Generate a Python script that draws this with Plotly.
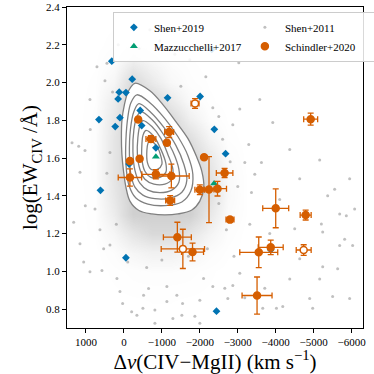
import plotly.graph_objects as go

# Shen+2019
shen19_dv = [320, -218, 124, -53, 153, -1150, -2008, -2316, 658, 105, -429, 229, -468,
             -2382, -842, -2679, -137, 618, -53, -3868, -2439]
shen19_ew = [2.113, 2.018, 1.949, 1.947, 1.913, 1.919, 1.926, 2.176, 1.804, 1.814, 1.852,
             1.767, 1.772, 1.752, 1.654, 1.623, 1.568, 1.429, 1.072, 1.114, 0.789]

# Mazzucchelli+2017
mazz_dv = [-842, -2376]
mazz_ew = [1.607, 1.465]

# Schindler+2020
sch_dv = [-1874, -4921, -376, -711, -1192, -1132, -158, -413, -158, -842, -1250, -1218,
          -2113, -2000, -2242, -2466, -2653, -2795, -4000, -4789, -1408, -1553, -1808,
          -3553, -3868, -4737, -3508]
sch_ew = [1.889, 1.806, 1.804, 1.701, 1.738, 1.681, 1.584, 1.596, 1.497, 1.514, 1.505, 1.375,
          1.604, 1.432, 1.433, 1.438, 1.521, 1.274, 1.334, 1.298, 1.181, 1.119, 1.102,
          1.101, 1.127, 1.113, 0.872]
sch_dv_err = [105, 184, 50, 130, 118, 60, 50, 50, 308, 370, 470, 118, 50, 130, 130, 237, 218,
              105, 342, 145, 368, 571, 290, 500, 329, 197, 395]
sch_ew_err = [0.026, 0.032, 0.008, 0.018, 0.029, 0.010, 0.010, 0.010, 0.046, 0.024, 0.063,
              0.026, 0.010, 0.026, 0.175, 0.039, 0.024, 0.010, 0.103, 0.026, 0.079, 0.104,
              0.047, 0.081, 0.038, 0.028, 0.098]
sch_open = [True, False, False, False, False, False, False, False, False, False, False, False,
            False, False, False, False, False, False, False, False, False, True, False,
            False, False, True, False]

# Shen+2011: scattered points outside the dense region
shen11_dv = [-3027, -2158, -2342, -2869, -3922, -3290, -3185, -3624, -3448, -3361, -5369,
             -5203, -5685, -5861, -6027, -5238, -5685, -5632, -4895, -4185, -5238, -5500,
             -2737, -2342, -2869, 1158, 534, 579, 1061, 184, 105, -518, -816, -1132, -1527,
             -1869, -342, 895, -650, -1132, -1395, -2098, -2000, -203, -500, -816, -1290,
             -1545, -3658, -4019, -4974, 34, -2000, 1368, 887, 711, 447, 1192, 1018, 1324,
             1158, 368, 500, 895, -684, -290, -947, -1342, -1737, 1026, 763, 632, 368, -3053,
             -3579, -4369, -4632, -5158, -5553, -5816, -4105, -4500, -3842, -3316, -3053,
             -2658, -3184, -3711, -4369, -4632, -5158, -5948, -5948, -6080,
             -2600, -2800, -2500, -3000, -2700, -2900, 300, 450, 200, -100, -600, -1000,
             -1700, -2200, -400, 150, -1500, -2500]
shen11_ew = [2.105, 2.03, 1.867, 1.777, 1.788, 1.672, 1.577, 1.576, 1.514, 1.418, 1.40,
             1.251, 1.137, 1.295, 1.137, 1.209, 1.304, 1.014, 0.856, 0.814, 1.025, 0.867,
             0.856, 0.92, 0.925, 1.146, 1.12, 1.005, 1.05, 0.962, 0.893, 0.874, 0.795, 0.84,
             0.768, 0.762, 0.768, 0.998, 0.909, 0.92, 0.874, 0.962, 0.847, 0.786, 0.804,
             0.725, 0.75, 0.83, 0.804, 0.804, 0.804, 0.83, 0.725, 1.681, 1.751, 2.084, 2.102,
             1.663, 1.347, 1.26, 1.525, 1.63, 2.01, 1.91, 2.28, 2.30, 2.22, 2.15, 2.12, 1.64,
             1.33, 1.22, 1.14, 1.86, 1.91, 1.645, 1.49, 1.59, 1.435, 1.17, 1.38, 1.225, 1.20,
             1.25, 0.99, 0.91, 0.86, 0.91, 0.96, 1.067, 0.96, 0.856, 1.49, 1.33,
             1.70, 1.58, 1.36, 1.45, 1.22, 1.08, 1.95, 1.52, 1.25, 1.05, 1.02, 1.06,
             1.08, 1.12, 2.18, 2.20, 1.98, 1.82]

# Shen+2011 point density (haze), read by eye
dens_dv = [1250, 750, 250, -250, -750, -1250, -1750, -2250, -2750, -3250, -3750, -4250,
           -4750, -5250, -5750]
dens_ew = [0.8, 0.9, 1.0, 1.1, 1.2, 1.3, 1.4, 1.5, 1.6, 1.7, 1.8, 1.9, 2.0, 2.1, 2.2, 2.3]
dens = [
    [0, 0, 0, 0, 0.01, 0.01, 0, 0, 0, 0, 0, 0, 0, 0, 0],
    [0, 0, 0.01, 0.02, 0.02, 0.02, 0.02, 0.01, 0, 0, 0, 0, 0, 0, 0],
    [0, 0, 0.02, 0.04, 0.06, 0.06, 0.04, 0.02, 0, 0, 0, 0, 0, 0, 0],
    [0, 0, 0.06, 0.2, 0.3, 0.3, 0.2, 0.08, 0.02, 0, 0, 0, 0, 0, 0],
    [0, 0.02, 0.2, 0.55, 0.8, 0.8, 0.55, 0.25, 0.05, 0, 0, 0, 0, 0, 0],
    [0, 0.03, 0.4, 1, 1, 1, 1, 0.5, 0.1, 0.01, 0, 0, 0, 0, 0],
    [0, 0.03, 0.5, 1, 1, 1, 1, 0.7, 0.14, 0.01, 0, 0, 0, 0, 0],
    [0, 0.04, 0.55, 1, 1, 1, 1, 0.65, 0.12, 0.01, 0, 0, 0, 0, 0],
    [0, 0.04, 0.55, 1, 1, 1, 0.95, 0.5, 0.08, 0, 0, 0, 0, 0, 0],
    [0, 0.04, 0.55, 1, 1, 1, 0.7, 0.25, 0.03, 0, 0, 0, 0, 0, 0],
    [0, 0.04, 0.5, 1, 1, 0.85, 0.35, 0.07, 0.01, 0, 0, 0, 0, 0, 0],
    [0, 0.03, 0.4, 1, 0.9, 0.45, 0.12, 0.02, 0, 0, 0, 0, 0, 0, 0],
    [0, 0.02, 0.2, 0.8, 0.45, 0.15, 0.04, 0.01, 0, 0, 0, 0, 0, 0, 0],
    [0, 0.01, 0.08, 0.4, 0.2, 0.06, 0.02, 0, 0, 0, 0, 0, 0, 0, 0],
    [0, 0, 0.03, 0.12, 0.06, 0.02, 0, 0, 0, 0, 0, 0, 0, 0, 0],
    [0, 0, 0.01, 0.03, 0.02, 0, 0, 0, 0, 0, 0, 0, 0, 0, 0],
]

# Shen+2011 density contours, outermost first
level_dv = [
    [-290, -684, -1026, -1369, -1684, -1921, -2053, -2105, -2000, -1790, -1421, -1079, -737,
     -395, -158, -53, 13, 53, 66, 53, -13, -118],
    [-342, -684, -1079, -1421, -1684, -1816, -1763, -1527, -1079, -632, -316, -132, -53, -53,
     -105, -184],
    [-395, -711, -1053, -1369, -1579, -1658, -1527, -1211, -816, -500, -290, -184, -145, -171,
     -263],
    [-447, -737, -1026, -1290, -1448, -1448, -1263, -947, -632, -421, -290, -237, -263, -342],
    [-500, -737, -974, -1158, -1290, -1263, -1079, -790, -553, -421, -355, -368, -421],
    [-579, -790, -974, -1105, -1105, -947, -711, -553, -474, -474, -500],
    [-684, -868, -974, -1000, -895, -711, -618, -605, -632],
]
level_ew = [
    [1.996, 1.956, 1.883, 1.793, 1.704, 1.604, 1.530, 1.446, 1.372, 1.325, 1.304, 1.299, 1.304,
     1.322, 1.372, 1.446, 1.535, 1.619, 1.709, 1.798, 1.883, 1.954],
    [1.935, 1.893, 1.809, 1.714, 1.614, 1.514, 1.425, 1.367, 1.348, 1.356, 1.388, 1.456, 1.567,
     1.698, 1.819, 1.893],
    [1.888, 1.841, 1.762, 1.667, 1.567, 1.483, 1.419, 1.388, 1.385, 1.404, 1.446, 1.514, 1.619,
     1.751, 1.846],
    [1.846, 1.804, 1.730, 1.635, 1.541, 1.472, 1.430, 1.417, 1.430, 1.467, 1.535, 1.635, 1.751,
     1.819],
    [1.798, 1.767, 1.704, 1.619, 1.541, 1.488, 1.462, 1.462, 1.488, 1.541, 1.619, 1.709, 1.772],
    [1.746, 1.714, 1.646, 1.572, 1.525, 1.498, 1.498, 1.530, 1.593, 1.672, 1.719],
    [1.693, 1.662, 1.609, 1.567, 1.541, 1.541, 1.577, 1.641, 1.677],
]

x_ticks = [1000, 0, -1000, -2000, -3000, -4000, -5000, -6000]
x_ticktext = ["1000", "0", "\u22121000", "\u22122000", "\u22123000", "\u22124000",
              "\u22125000", "\u22126000"]
y_ticks = [0.8, 1.0, 1.2, 1.4, 1.6, 1.8, 2.0, 2.2, 2.4]
y_ticktext = ["0.8", "1.0", "1.2", "1.4", "1.6", "1.8", "2.0", "2.2", "2.4"]

BLUE = "#0173B2"
GREEN = "#029E73"
ORANGE = "#D55E00"
FONT = "Liberation Serif"

fig = go.Figure()

fig.add_trace(go.Heatmap(
    x=dens_dv, y=dens_ew, z=dens, zmin=0, zmax=1, zsmooth="best", showscale=False,
    colorscale=[[0, "rgba(150,150,150,0)"], [1, "rgba(150,150,150,0.45)"]],
    hoverinfo="skip",
))

# blank out the inside of the outer contour, as in the original
fig.add_trace(go.Scatter(
    x=level_dv[0] + level_dv[0][:1], y=level_ew[0] + level_ew[0][:1],
    mode="lines", line=dict(width=0, shape="spline", smoothing=1),
    fill="toself", fillcolor="white", showlegend=False, hoverinfo="skip",
))

fig.add_trace(go.Scatter(
    x=shen11_dv, y=shen11_ew, mode="markers", name="Shen+2011", legendrank=2,
    marker=dict(color="rgba(140,140,140,0.55)", size=3),
))

for dv, ew in zip(level_dv, level_ew):
    fig.add_trace(go.Scatter(
        x=dv + dv[:1], y=ew + ew[:1], mode="lines", showlegend=False, hoverinfo="skip",
        line=dict(color="#808080", width=1.3, shape="spline", smoothing=1),
    ))

fig.add_trace(go.Scatter(
    x=shen19_dv, y=shen19_ew, mode="markers", name="Shen+2019", legendrank=1,
    marker=dict(color=BLUE, symbol="diamond", size=6),
))
fig.add_trace(go.Scatter(
    x=mazz_dv, y=mazz_ew, mode="markers", name="Mazzucchelli+2017", legendrank=3,
    marker=dict(color=GREEN, symbol="triangle-up", size=7),
))

for is_open in (False, True):
    idx = [i for i, o in enumerate(sch_open) if o == is_open]
    fig.add_trace(go.Scatter(
        x=[sch_dv[i] for i in idx], y=[sch_ew[i] for i in idx],
        mode="markers", name="Schindler+2020", legendrank=4, showlegend=not is_open,
        marker=dict(color="white" if is_open else ORANGE, size=7,
                    line=dict(color=ORANGE, width=1.5)),
        error_x=dict(array=[sch_dv_err[i] for i in idx], color=ORANGE, thickness=1.3,
                     width=3),
        error_y=dict(array=[sch_ew_err[i] for i in idx], color=ORANGE, thickness=1.3,
                     width=3),
    ))

axis_common = dict(showline=True, mirror=True, linecolor="black", linewidth=1,
                   ticks="outside", ticklen=4, tickcolor="black", showgrid=False,
                   zeroline=False, automargin=False,
                   tickfont=dict(family=FONT, size=11, color="black"))

fig.update_layout(
    width=374,
    height=374,
    margin=dict(l=67, r=11, t=7, b=46, autoexpand=False),
    paper_bgcolor="white",
    plot_bgcolor="white",
    font=dict(family=FONT, color="black"),
    xaxis=dict(range=[1500, -6300], tickvals=x_ticks, ticktext=x_ticktext,
               title=dict(text="\u0394<i>v</i>(CIV\u2212MgII) (km s<sup>\u22121</sup>)",
                          font=dict(size=21), standoff=3),
               **axis_common),
    yaxis=dict(range=[0.7, 2.4], tickvals=y_ticks, ticktext=y_ticktext,
               title=dict(text="log(EW<sub>CIV</sub> /\u00c5)", font=dict(size=21),
                          standoff=2),
               **axis_common),
    legend=dict(x=0.155, y=0.985, xanchor="left", yanchor="top", orientation="h",
                entrywidth=86, bgcolor="rgba(255,255,255,0.85)",
                bordercolor="#cccccc", borderwidth=1, font=dict(size=11, family=FONT),
                tracegroupgap=0),
)

# the page body has a default 8px margin; drop it so the figure sits at the corner
fig.write_html("out.html", config={"displayModeBar": False},
               post_script="document.body.style.margin = '0';")
